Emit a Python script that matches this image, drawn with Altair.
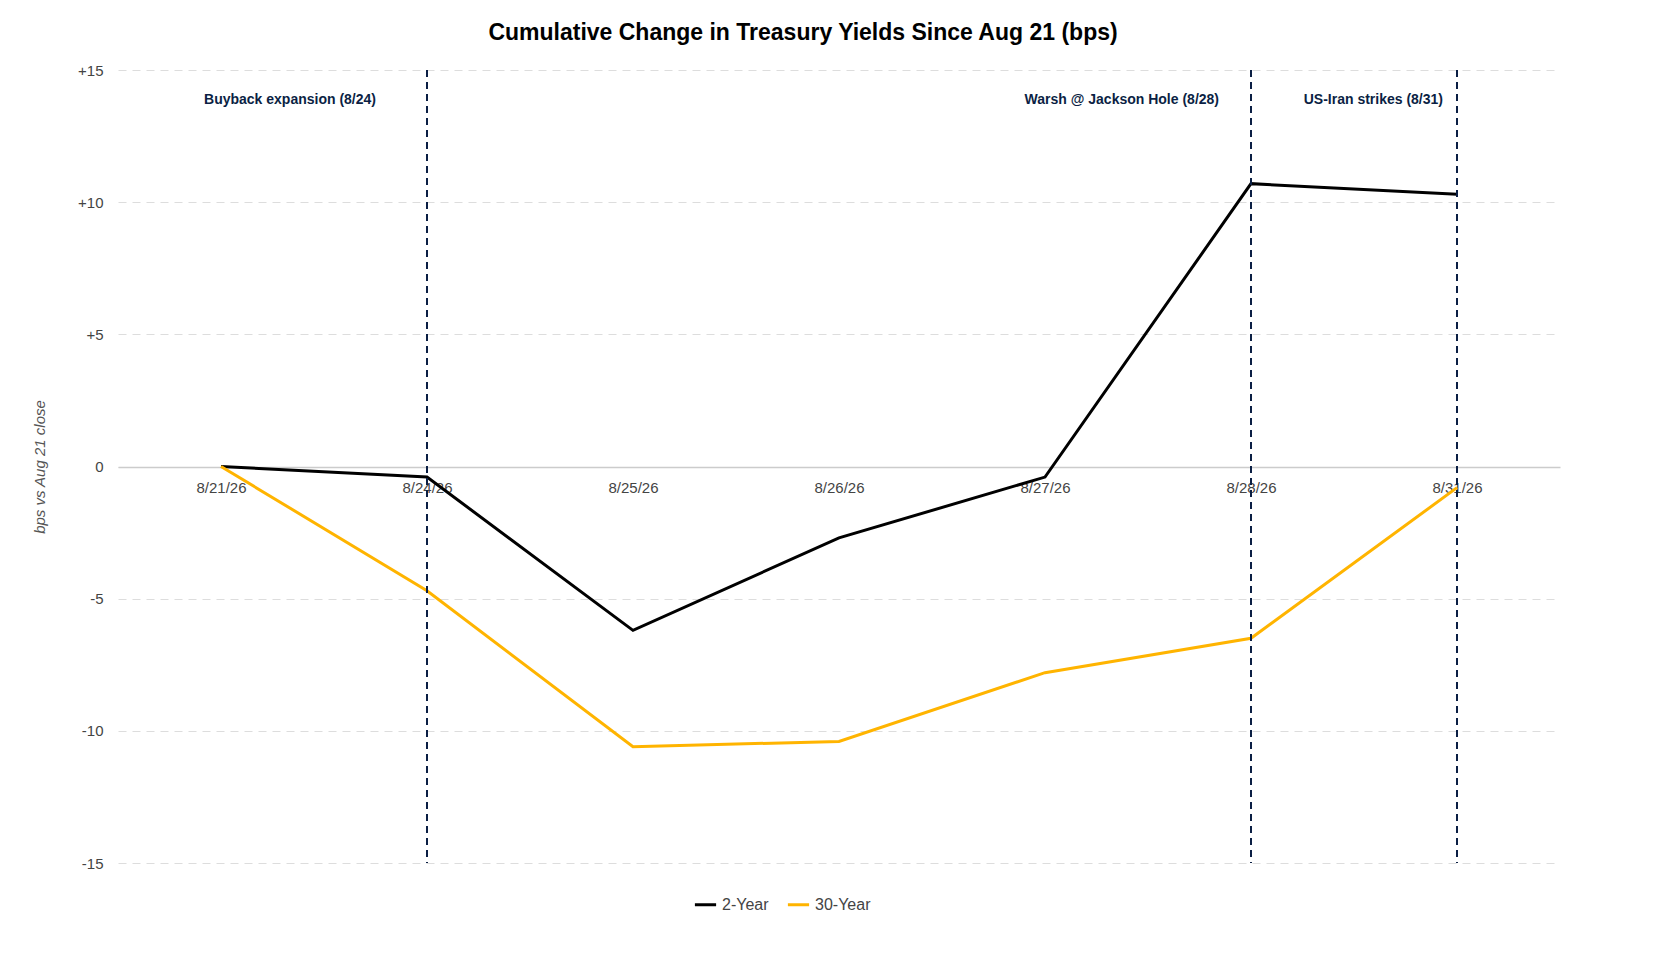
import altair as alt
import pandas as pd

dates = ['8/21/26', '8/24/26', '8/25/26', '8/26/26', '8/27/26', '8/28/26', '8/31/26']
two_year = [0.0, -0.4, -6.2, -2.7, -0.4, 10.7, 10.3]
thirty_year = [0.0, -4.7, -10.6, -10.4, -7.8, -6.5, -0.8]

event_dates = ['8/24/26', '8/28/26', '8/31/26']
event_labels = ['Buyback expansion (8/24)', 'Warsh @ Jackson Hole (8/28)', 'US-Iran strikes (8/31)']
event_shift = [-51, -32, -14]

navy = '#0B1F44'

df = pd.DataFrame({
    'date': dates * 2,
    'value': two_year + thirty_year,
    'series': ['2-Year'] * len(dates) + ['30-Year'] * len(dates),
})
events = pd.DataFrame({'date': event_dates, 'label': event_labels})

x = alt.X('date:O', sort=dates, title=None,
          scale=alt.Scale(type='point', padding=0.5),
          axis=alt.Axis(labelAngle=0, offset=-396, domainColor='#cccccc', domainWidth=1.5,
                        ticks=False, labelFontSize=15, labelColor='#444', labelPadding=13,
                        labelFont='Liberation Sans'))

lines = alt.Chart(df).mark_line(strokeWidth=3).encode(
    x=x,
    y=alt.Y('value:Q', scale=alt.Scale(domain=[-15, 15]), title='bps vs Aug 21 close',
            axis=alt.Axis(values=[-15, -10, -5, 0, 5, 10, 15],
                          labelExpr="datum.value > 0 ? '+' + datum.value : datum.value",
                          gridDash=[8, 6], gridColor='#dddddd', domain=False, ticks=False,
                          labelFontSize=15, labelColor='#444', labelPadding=15,
                          titleFontStyle='italic', titleFontWeight='normal', titleFontSize=15,
                          titleColor='#555', titlePadding=30, labelFont='Liberation Sans',
                          titleFont='Liberation Sans')),
    color=alt.Color('series:N', scale=alt.Scale(domain=['2-Year', '30-Year'], range=['#000000', '#FFB400']),
                    legend=alt.Legend(title=None, orient='none', legendX=575, legendY=822,
                                      direction='horizontal', symbolType='stroke',
                                      symbolStrokeWidth=3, symbolSize=450, labelFontSize=16,
                                      labelColor='#444', columnPadding=12,
                                      labelFont='Liberation Sans'))
)

rules = alt.Chart(events).mark_rule(color=navy, strokeDash=[7, 5], strokeWidth=2).encode(
    x=alt.X('date:O', sort=dates, scale=alt.Scale(type='point', padding=0.5))
)

texts = []
for d, lab, s in zip(event_dates, event_labels, event_shift):
    texts.append(alt.Chart(pd.DataFrame({'date': [d], 'label': [lab]})).mark_text(
        align='right', dx=s, y=30, fontSize=14, fontWeight='bold', color=navy,
        font='Liberation Sans').encode(
        x=alt.X('date:O', sort=dates, scale=alt.Scale(type='point', padding=0.5)),
        text='label:N'))

chart = alt.layer(lines, rules, *texts).properties(
    width=1442, height=793,
    autosize=alt.AutoSizeParams(type='none'),
    padding={'left': 110, 'top': 62, 'right': 60, 'bottom': 60},
    title=alt.Title('Cumulative Change in Treasury Yields Since Aug 21 (bps)', fontSize=23,
                    font='Liberation Sans', fontWeight='bold', offset=18, anchor='middle', dx=-36),
).configure_view(stroke=None)

chart.save("out.html", embed_options={"renderer": "svg", "actions": False})
